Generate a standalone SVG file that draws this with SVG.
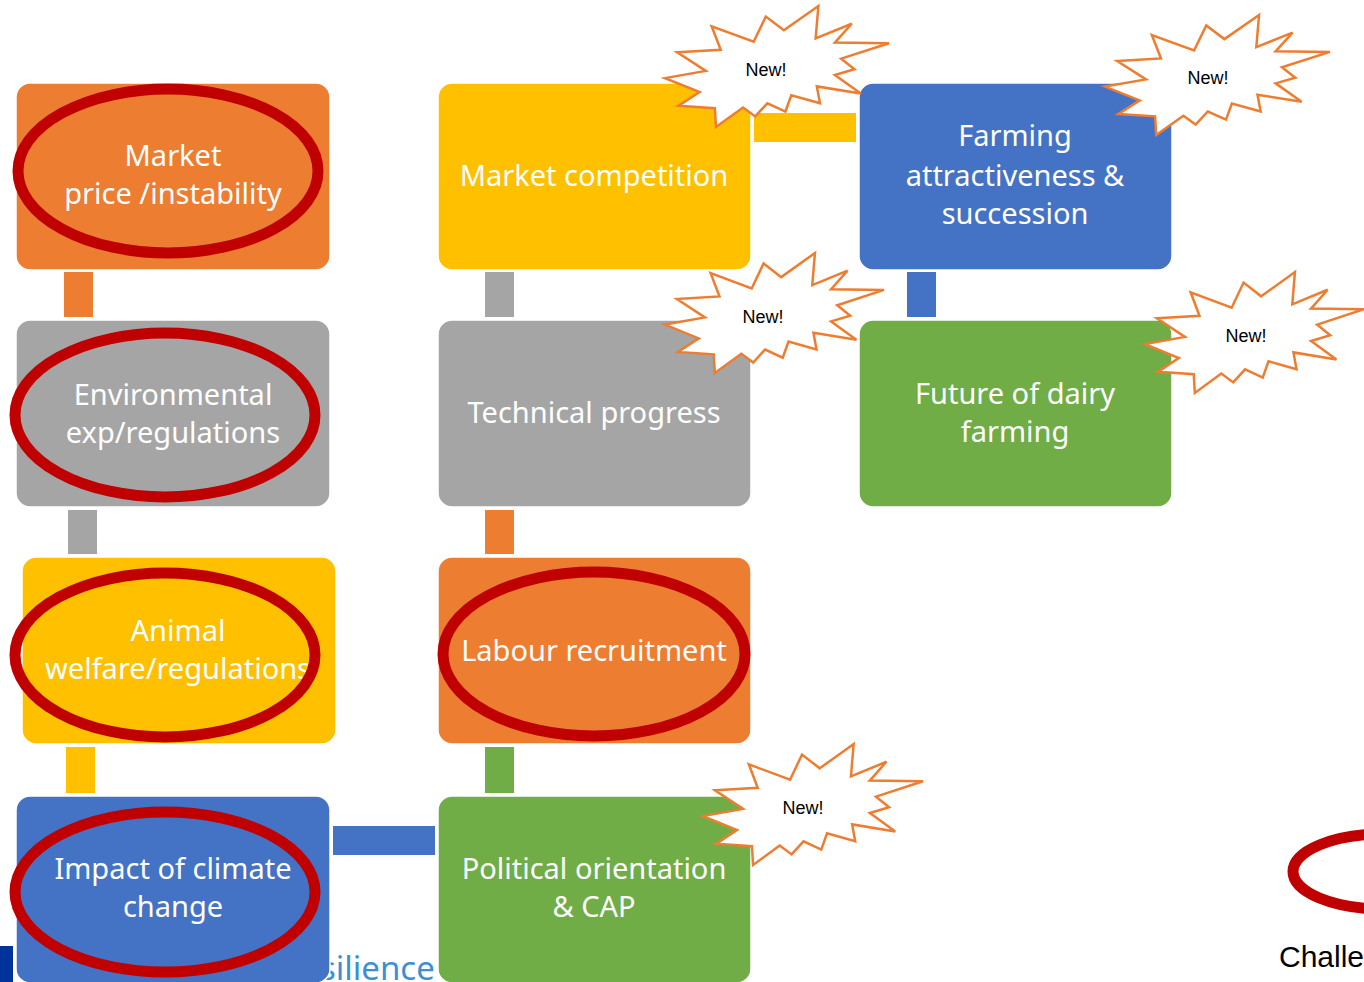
<svg xmlns="http://www.w3.org/2000/svg" xmlns:xlink="http://www.w3.org/1999/xlink" width="1364" height="982" viewBox="0 0 1364 982">
  <style>
    .box { stroke: #ffffff; stroke-width: 1.5; }
    .orange { fill: #ED7D31; }
    .gray { fill: #A5A5A5; }
    .yellow { fill: #FFC000; }
    .blue { fill: #4472C4; }
    .green { fill: #70AD47; }
    .label { font-family: "Noto Sans", "Open Sans", sans-serif; font-size: 29px; fill: #ffffff; text-anchor: middle; }
    .ring { fill: none; stroke: #C00000; stroke-width: 11; }
    .burst-text { font-family: "Liberation Sans", Arial, sans-serif; font-size: 18px; fill: #000000; text-anchor: middle; }
  </style>
  <defs>
    <!-- explosion outline on a 100 x 100 grid -->
    <polygon id="burst" vector-effect="non-scaling-stroke" fill="#ffffff" stroke="#ED7D31" stroke-width="2.5" stroke-linejoin="miter"
      points="53.06,20.10 68.47,0 67.25,26.75 83.37,14.69 75.83,30.24 100,30.76 78.63,43.53 84.58,52.27 75.83,56.99 87.39,72.37 67.78,66.44 69.18,80.42 56.39,73.77 53.76,87.23 45.70,80.42 40.28,91.26 34.85,83.91 22.76,100 22.25,84.44 5.95,82.52 15.42,71.16 0,59.62 18.22,53.67 5.43,38.29 24.87,36.19 20.84,16.78 39.58,29.55 45.01,8.74"/>
  </defs>

  <rect width="1364" height="982" fill="#ffffff"/>

  <!-- footer logo fragments -->
  <g id="footer">
    <rect x="0" y="946" width="13" height="40" fill="#003399"/>
    <text x="320" y="980" font-family="Noto Sans, sans-serif" font-size="33" fill="#3D8FD3">silience</text>
    <text x="1279" y="967" font-family="Liberation Sans, Arial, sans-serif" font-size="30" fill="#000000">Challe</text>
    <ellipse cx="1383" cy="871.5" rx="90" ry="37.5" class="ring"/>
  </g>

  <!-- connectors -->
  <g id="connectors">
    <rect x="64" y="272" width="29" height="45" class="orange"/>
    <rect x="68" y="510" width="29" height="44" class="gray"/>
    <rect x="66" y="747" width="29" height="46" class="yellow"/>
    <rect x="333" y="826" width="102" height="29" class="blue"/>
    <rect x="485" y="272" width="29" height="45" class="gray"/>
    <rect x="485" y="510" width="29" height="44" class="orange"/>
    <rect x="485" y="747" width="29" height="46" class="green"/>
    <rect x="754" y="113" width="102" height="29" class="yellow"/>
    <rect x="907" y="272" width="29" height="45" class="blue"/>
  </g>

  <!-- left column -->
  <g id="market-price">
    <rect x="16" y="83" width="314" height="187" rx="14" class="box orange"/>
    <text class="label" x="173" y="166">Market</text>
    <text class="label" x="173" y="204">price /instability</text>
    <ellipse cx="168" cy="171" rx="150" ry="82" class="ring"/>
  </g>
  <g id="environmental">
    <rect x="16" y="320" width="314" height="187" rx="14" class="box gray"/>
    <text class="label" x="173" y="405">Environmental</text>
    <text class="label" x="173" y="443">exp/regulations</text>
    <ellipse cx="165" cy="415" rx="150" ry="82" class="ring"/>
  </g>
  <g id="animal-welfare">
    <rect x="22" y="557" width="314" height="187" rx="14" class="box yellow"/>
    <text class="label" x="178" y="641">Animal</text>
    <text class="label" x="178" y="679">welfare/regulations</text>
    <ellipse cx="165" cy="655" rx="150" ry="82" class="ring"/>
  </g>
  <g id="climate-change">
    <rect x="16" y="796" width="314" height="187" rx="14" class="box blue"/>
    <text class="label" x="173" y="879">Impact of climate</text>
    <text class="label" x="173" y="917">change</text>
    <ellipse cx="165" cy="892" rx="150" ry="80" class="ring"/>
  </g>

  <!-- middle column -->
  <g id="market-competition">
    <rect x="438" y="83" width="313" height="187" rx="14" class="box yellow"/>
    <text class="label" x="594" y="186">Market competition</text>
  </g>
  <g id="technical-progress">
    <rect x="438" y="320" width="313" height="187" rx="14" class="box gray"/>
    <text class="label" x="594" y="423">Technical progress</text>
  </g>
  <g id="labour-recruitment">
    <rect x="438" y="557" width="313" height="187" rx="14" class="box orange"/>
    <text class="label" x="594" y="661">Labour recruitment</text>
    <ellipse cx="594" cy="654" rx="151" ry="82" class="ring"/>
  </g>
  <g id="political-orientation">
    <rect x="438" y="796" width="313" height="187" rx="14" class="box green"/>
    <text class="label" x="594" y="879">Political orientation</text>
    <text class="label" x="594" y="917">&amp; CAP</text>
  </g>

  <!-- right column -->
  <g id="farming-attractiveness">
    <rect x="859" y="83" width="313" height="187" rx="14" class="box blue"/>
    <text class="label" x="1015" y="146">Farming</text>
    <text class="label" x="1015" y="186">attractiveness &amp;</text>
    <text class="label" x="1015" y="224">succession</text>
  </g>
  <g id="future-dairy">
    <rect x="859" y="320" width="313" height="187" rx="14" class="box green"/>
    <text class="label" x="1015" y="404">Future of dairy</text>
    <text class="label" x="1015" y="442">farming</text>
  </g>

  <!-- "New!" callouts -->
  <g id="new-market-competition">
    <use xlink:href="#burst" transform="translate(665 6) scale(2.24 1.21)"/>
    <text class="burst-text" x="766" y="76">New!</text>
  </g>
  <g id="new-farming-attractiveness">
    <use xlink:href="#burst" transform="translate(1105 15) scale(2.25 1.20)"/>
    <text class="burst-text" x="1208" y="84">New!</text>
  </g>
  <g id="new-technical-progress">
    <use xlink:href="#burst" transform="translate(665 253) scale(2.19 1.20)"/>
    <text class="burst-text" x="763" y="323">New!</text>
  </g>
  <g id="new-future-dairy">
    <use xlink:href="#burst" transform="translate(1145 272) scale(2.19 1.21)"/>
    <text class="burst-text" x="1246" y="342">New!</text>
  </g>
  <g id="new-political-orientation">
    <use xlink:href="#burst" transform="translate(703 744) scale(2.20 1.21)"/>
    <text class="burst-text" x="803" y="814">New!</text>
  </g>
</svg>
